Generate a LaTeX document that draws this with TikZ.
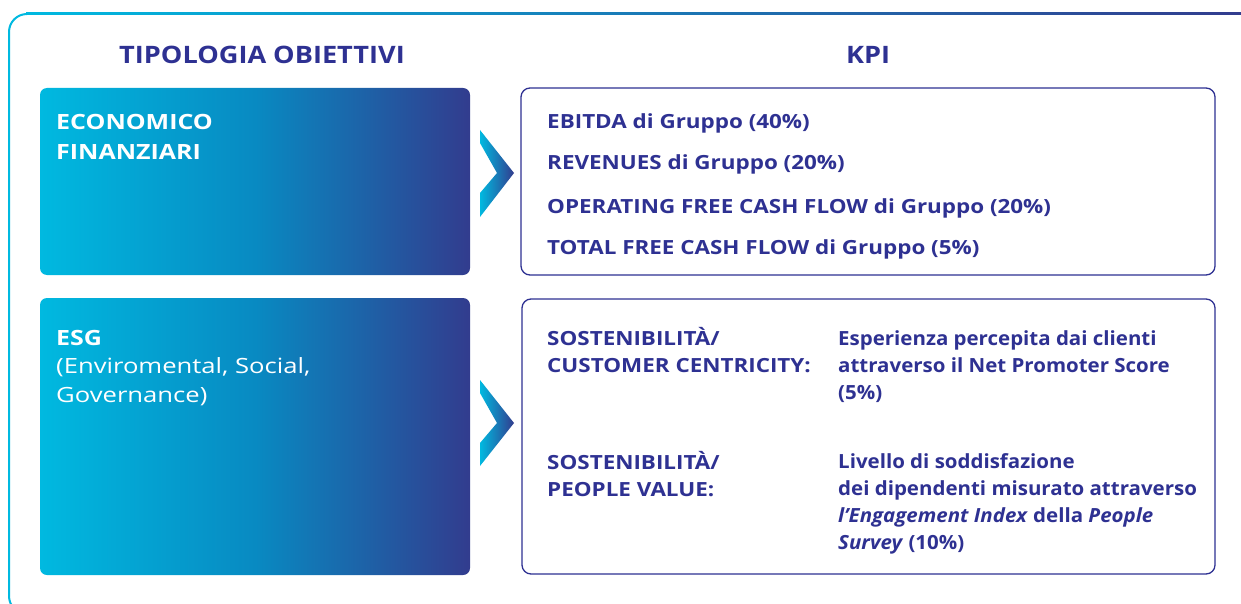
\documentclass[tikz,border=0pt]{standalone}
\usepackage{fontspec}
\setmainfont{Open Sans}
\newfontfamily\capsfont[FakeStretch=1.15]{Open Sans}
\newfontfamily\headfont[FakeStretch=1.13]{Open Sans}
\newfontfamily\whitebfont[FakeStretch=1.19]{Open Sans}
\newfontfamily\whitefont[FakeStretch=1.22]{Open Sans}
\newfontfamily\descfont[FakeStretch=1.05]{Open Sans}
\definecolor{navy}{RGB}{46,49,146}
\definecolor{cyanb}{RGB}{0,185,224}
\definecolor{midb}{RGB}{8,138,194}
\definecolor{deepb}{RGB}{50,60,142}
\tikzset{
  gbox/.style={rounded corners=7pt, left color=cyanb, right color=deepb, middle color=midb},
  kbox/.style={draw=navy, line width=1.3pt, rounded corners=9pt, fill=white},
  chev/.style={left color=cyanb, right color=deepb},
  head/.style={text=navy, font=\headfont\fontsize{24}{28}\selectfont\bfseries, inner sep=0pt, anchor=base},
  wtxt/.style={text=white, align=left, inner sep=0pt, anchor=base west},
  ktxt/.style={text=navy, font=\capsfont\fontsize{19.5}{26.7}\selectfont\bfseries, align=left, inner sep=0pt, anchor=base west},
  dtxt/.style={ktxt, font=\descfont\fontsize{19.5}{26.7}\selectfont\bfseries},
}
\begin{document}
\begin{tikzpicture}[x=1pt,y=-1pt]
\useasboundingbox (0,0) rectangle (1241,604);
\begin{scope}
\clip (0,0) rectangle (1241,604);
\draw[cyanb, line width=2pt, rounded corners=18pt] (9,14) rectangle (1260,614);
\shade[left color=cyanb, right color=deepb] (26,13) rectangle (1241,15);
\end{scope}
% headings
\node[head] (h1) at (262,64) {TIPOLOGIA OBIETTIVI};
\node[head] (h2) at (868,64) {KPI};
% gradient boxes
\shade[gbox] (40,88) rectangle (470,275);
\shade[gbox] (40,298) rectangle (470,575);
\node[wtxt, font=\whitebfont\fontsize{21}{30}\selectfont\bfseries] (t1) at (56,160) {ECONOMICO\\FINANZIARI};
\node[wtxt, font=\whitefont\fontsize{21}{28.5}\selectfont] (t2) at (56,402) {{\whitebfont\bfseries ESG}\\(Enviromental, Social,\\Governance)};
% chevrons
\shade[chev] (480,130) -- (514,173) -- (480,217) -- (480,193) -- (497,173) -- (480,143) -- cycle;
\shade[chev] (480,380) -- (514,423) -- (480,466) -- (480,443) -- (497,423) -- (480,393) -- cycle;
% KPI boxes
\draw[kbox] (521,88) rectangle (1215,275);
\draw[kbox] (522,299) rectangle (1215,574);
\node[ktxt] (k1) at (547,129) {EBITDA di Gruppo (40\%)};
\node[ktxt] (k2) at (547,170) {REVENUES di Gruppo (20\%)};
\node[ktxt] (k3) at (547,213) {OPERATING FREE CASH FLOW di Gruppo (20\%)};
\node[ktxt] (k4) at (547,254) {TOTAL FREE CASH FLOW di Gruppo (5\%)};
\node[ktxt] (s1) at (547,372) {SOSTENIBILITÀ/\\CUSTOMER CENTRICITY:};
\node[dtxt] (d1) at (838,399) {Esperienza percepita dai clienti\\attraverso il Net Promoter Score\\(5\%)};
\node[ktxt] (s2) at (547,496) {SOSTENIBILITÀ/\\PEOPLE VALUE:};
\node[dtxt] (d2) at (838,549) {Livello di soddisfazione\\dei dipendenti misurato attraverso\\\textit{l’Engagement Index} della \textit{People}\\\textit{Survey} (10\%)};
\end{tikzpicture}
\end{document}
